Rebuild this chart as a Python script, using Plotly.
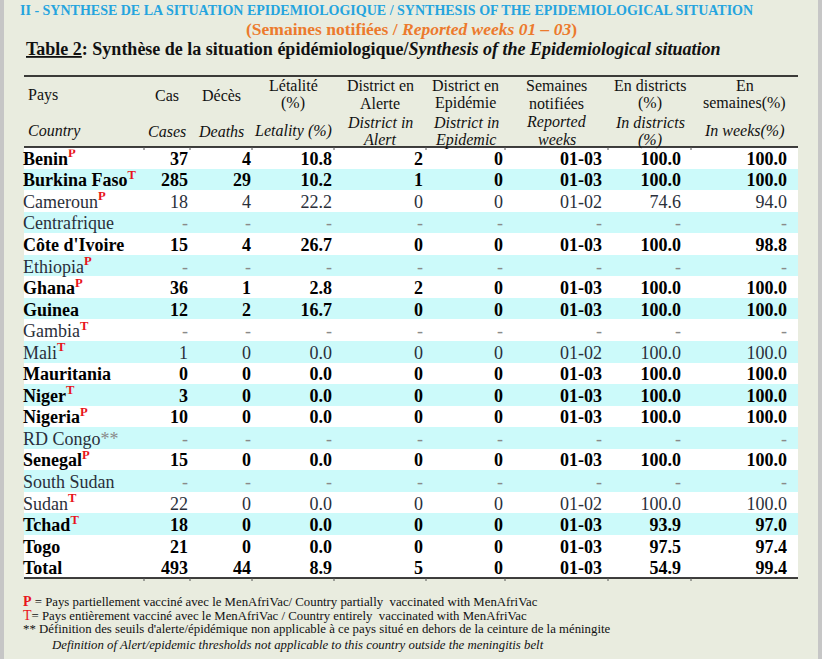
import plotly.graph_objects as go

# ---------------- data ----------------
countries = ["Benin", "Burkina Faso", "Cameroun", "Centrafrique", "Côte d'Ivoire", "Ethiopia",
             "Ghana", "Guinea", "Gambia", "Mali", "Mauritania", "Niger", "Nigeria", "RD Congo",
             "Senegal", "South Sudan", "Sudan", "Tchad", "Togo", "Total"]
vacc_marks = ["P", "T", "P", "", "", "P", "P", "", "T", "T", "", "T", "P", "**", "P", "", "T", "T", "", ""]
bold_rows = [True, True, False, False, True, False, True, True, False, False, True, True, True,
             False, True, False, False, True, True, True]
cases = [37, 285, 18, None, 15, None, 36, 12, None, 1, 0, 3, 10, None, 15, None, 22, 18, 21, 493]
deaths = [4, 29, 4, None, 4, None, 1, 2, None, 0, 0, 0, 0, None, 0, None, 0, 0, 0, 44]
letality = [10.8, 10.2, 22.2, None, 26.7, None, 2.8, 16.7, None, 0.0, 0.0, 0.0, 0.0, None, 0.0, None,
            0.0, 0.0, 0.0, 8.9]
district_alert = [2, 1, 0, None, 0, None, 2, 0, None, 0, 0, 0, 0, None, 0, None, 0, 0, 0, 5]
district_epidemic = [0, 0, 0, None, 0, None, 0, 0, None, 0, 0, 0, 0, None, 0, None, 0, 0, 0, 0]
reported_weeks = ["01-03", "01-03", "01-02", None, "01-03", None, "01-03", "01-03", None, "01-02",
                  "01-03", "01-03", "01-03", None, "01-03", None, "01-02", "01-03", "01-03", "01-03"]
pct_districts = [100.0, 100.0, 74.6, None, 100.0, None, 100.0, 100.0, None, 100.0, 100.0, 100.0, 100.0,
                 None, 100.0, None, 100.0, 93.9, 97.5, 54.9]
pct_weeks = [100.0, 100.0, 94.0, None, 98.8, None, 100.0, 100.0, None, 100.0, 100.0, 100.0, 100.0,
             None, 100.0, None, 100.0, 97.0, 97.4, 99.4]

header_fr = ["Pays", "Cas", "Décès", "Létalité<br>(%)", "District en<br>Alerte", "District en<br>Epidémie",
             "Semaines<br>notifiées", "En districts<br>(%)", "En<br>semaines(%)"]
header_en = ["Country", "Cases", "Deaths", "Letality (%)", "District in<br>Alert", "District in<br>Epidemic",
             "Reported<br>weeks", "In districts<br>(%)", "In weeks(%)"]

title1 = "II - SYNTHESE DE LA SITUATION EPIDEMIOLOGIQUE / SYNTHESIS OF THE EPIDEMIOLOGICAL SITUATION"
title2 = "(Semaines notifiées / <i>Reported weeks 01 – 03</i>)"
title3 = "<u>Table 2</u>: Synthèse de la situation épidémiologique/<i>Synthesis of the Epidemiological situation</i>"
footnotes = [
    "<b><span style='color:#e8141b;font-size:14px'>P</span></b> = Pays partiellement vacciné avec le MenAfriVac/ Country partially  vaccinated with MenAfriVac",
    "<span style='color:#e8141b;font-size:14px'>T</span>= Pays entièrement vacciné avec le MenAfriVac / Country entirely  vaccinated with MenAfriVac",
    "** Définition des seuils d'alerte/épidémique non applicable à ce pays situé en dehors de la ceinture de la méningite",
    "<i>Definition of Alert/epidemic thresholds not applicable to this country outside the meningitis belt</i>",
]

# ---------------- layout constants ----------------
W, H = 822, 659
SERIF = "Liberation Serif"
BG = "#e9ecdf"
CYAN = "#ccfafa"
col_edges = [24, 144, 190, 252, 334, 426, 505, 608, 691, 798]
num_right = [188, 251, 332, 423, 503, 602, 681, 787]
body_top, body_bot = 147, 578
TEXT_DROP = 2.5  # text baseline sits slightly low in each row
n = len(countries)
BODY_SIZE = 18


def py(p):
    return 1 - p / H


def fmt_int(v):
    return "-" if v is None else str(v)


def fmt_f(v):
    return "-" if v is None else f"{v:.1f}"


def styl(s, b):
    return f"<b>{s}</b>" if b else s


fig = go.Figure()

# row backgrounds
fills = [CYAN if (i % 2 == 1 and countries[i] != "Total") else "#ffffff" for i in range(n)]
fig.add_trace(go.Bar(y=list(range(n)), x=[col_edges[-1] - col_edges[0]] * n, base=col_edges[0],
                     orientation="h", width=1, marker=dict(color=fills, line=dict(width=0)),
                     hoverinfo="skip", showlegend=False))

# country column
ctext = []
for c, m, b in zip(countries, vacc_marks, bold_rows):
    if m == "**":
        mark = "<span style='color:#8a8a8a'>**</span>"
    elif m:
        mark = f"<b><span style='color:#e8141b'><sup>{m}</sup></span></b>"
    else:
        mark = ""
    ctext.append((f"<b>{c}</b>" if b else c) + mark)
ccol = ["#000000" if b else "#2a2f3a" for b in bold_rows]
fig.add_trace(go.Scatter(x=[col_edges[0] - 1] * n, y=list(range(n)), yaxis="y2", mode="text", text=ctext,
                         textposition="middle right", textfont=dict(family=SERIF, size=BODY_SIZE, color=ccol),
                         hoverinfo="skip", showlegend=False))

columns = [
    [fmt_int(v) for v in cases],
    [fmt_int(v) for v in deaths],
    [fmt_f(v) for v in letality],
    [fmt_int(v) for v in district_alert],
    [fmt_int(v) for v in district_epidemic],
    ["-" if v is None else v for v in reported_weeks],
    [fmt_f(v) for v in pct_districts],
    [fmt_f(v) for v in pct_weeks],
]
for ci, vals in enumerate(columns):
    txt = [styl(v, b) if v != "-" else v for v, b in zip(vals, bold_rows)]
    cols = ["#8a8a8a" if v == "-" else ("#000000" if b else "#2a2f3a") for v, b in zip(vals, bold_rows)]
    fig.add_trace(go.Scatter(x=[num_right[ci]] * n, y=list(range(n)), yaxis="y2", mode="text", text=txt,
                             textposition="middle left",
                             textfont=dict(family=SERIF, size=BODY_SIZE, color=cols),
                             hoverinfo="skip", showlegend=False))

annotations = []
# headers
for ci in range(len(header_fr)):
    if ci == 0:
        xpos, anchor = 26, "left"
    else:
        xpos, anchor = (col_edges[ci] + col_edges[ci + 1]) / 2, "center"
    for lines, ymid, ital in ((header_fr[ci].split("<br>"), 95, False),
                              (header_en[ci].split("<br>"), 131, True)):
        ys = [ymid] if len(lines) == 1 else [ymid - 9, ymid + 8.5]
        for ln, yy in zip(lines, ys):
            annotations.append(dict(x=xpos, y=py(yy), xref="x", yref="paper", text=f"<i>{ln}</i>" if ital else ln,
                                    showarrow=False, xanchor=anchor, yanchor="middle",
                                    font=dict(family=SERIF, size=16, color="#111111")))

# titles
annotations.append(dict(x=386, y=py(11), xref="x", yref="paper", text=f"<b>{title1}</b>", showarrow=False,
                        xanchor="center", yanchor="middle", font=dict(family=SERIF, size=14, color="#25a4de")))
annotations.append(dict(x=411, y=py(29), xref="x", yref="paper", text=f"<b>{title2}</b>", showarrow=False,
                        xanchor="center", yanchor="middle", font=dict(family=SERIF, size=17.5, color="#ec7a2d")))
annotations.append(dict(x=24, y=py(49), xref="x", yref="paper", text=f"<b>{title3}</b>", showarrow=False,
                        xanchor="left", yanchor="middle", font=dict(family=SERIF, size=18, color="#111111")))

# footnotes
for fn, yy, xx in zip(footnotes, [601, 615, 629, 645], [21, 21, 21, 49]):
    annotations.append(dict(x=xx, y=py(yy), xref="x", yref="paper", text=fn, showarrow=False,
                            xanchor="left", yanchor="middle", font=dict(family=SERIF, size=12.8, color="#111111")))

shapes = []
for yy in (76, body_top, body_bot):
    shapes.append(dict(type="line", xref="x", yref="paper", x0=col_edges[0], x1=col_edges[-1],
                       y0=py(yy), y1=py(yy), line=dict(color="#000000", width=1.5)))
for e in col_edges[1:-1]:
    for y0, y1 in ((body_top, body_top + 3), (body_bot, body_bot + 3)):
        shapes.append(dict(type="line", xref="x", yref="paper", x0=e, x1=e, y0=py(y0), y1=py(y1),
                           line=dict(color="#555555", width=1)))
# window side strips
shapes.append(dict(type="rect", xref="paper", yref="paper", x0=0, x1=4 / W, y0=0, y1=1,
                   fillcolor="#c6c6c6", line=dict(width=0), layer="below"))
shapes.append(dict(type="rect", xref="paper", yref="paper", x0=818 / W, x1=1, y0=0, y1=1,
                   fillcolor="#c6c6c6", line=dict(width=0), layer="below"))

fig.update_layout(
    width=W, height=H, margin=dict(l=0, r=0, t=0, b=0),
    paper_bgcolor=BG, plot_bgcolor="rgba(0,0,0,0)",
    xaxis=dict(range=[0, W], domain=[0, 1], visible=False, fixedrange=True),
    yaxis=dict(range=[n - 0.5, -0.5], domain=[py(body_bot), py(body_top)], visible=False, fixedrange=True),
    yaxis2=dict(range=[n - 0.5, -0.5], domain=[py(body_bot + TEXT_DROP), py(body_top + TEXT_DROP)],
                visible=False, fixedrange=True),
    bargap=0, annotations=annotations, shapes=shapes, showlegend=False,
)

fig.write_html("out.html", config={"displayModeBar": False},
               post_script="document.body.style.margin='0px';")
